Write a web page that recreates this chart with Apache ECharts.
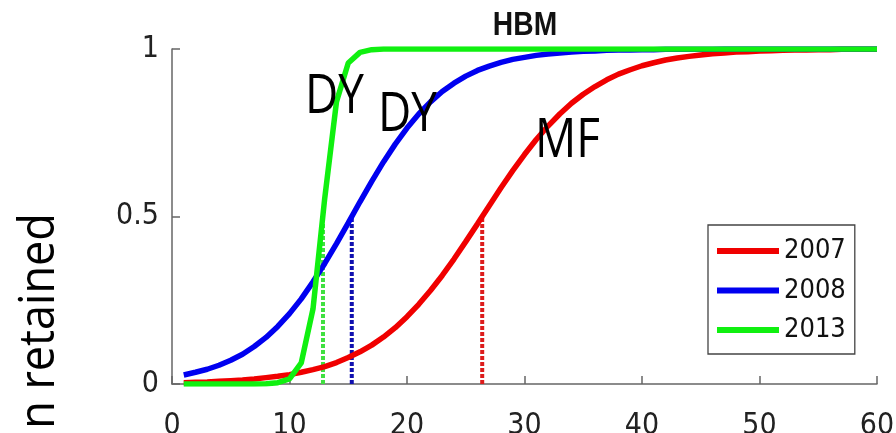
<!DOCTYPE html>
<html><head><meta charset="utf-8">
<script src="https://cdn.jsdelivr.net/npm/echarts@6/dist/echarts.min.js"></script>
<style>html,body{margin:0;padding:0;background:#fff}#c{width:896px;height:433px}</style>
</head><body><div id="c"></div>
<script>
// ---- data ----
const xValues = [1,2,3,4,5,6,7,8,9,10,11,12,13,14,15,16,17,18,19,20,21,22,23,24,25,26,27,28,29,30,31,32,33,34,35,36,37,38,39,40,41,42,43,44,45,46,47,48,49,50,51,52,53,54,55,56,57,58,59,60];
const values2007 = [0.004,0.005,0.006,0.008,0.010,0.012,0.015,0.019,0.023,0.028,
  0.035,0.043,0.052,0.064,0.079,0.096,0.116,0.140,0.168,0.201,
  0.238,0.279,0.324,0.373,0.425,0.478,0.532,0.586,0.637,0.685,
  0.730,0.770,0.806,0.838,0.865,0.888,0.908,0.925,0.938,0.950,
  0.959,0.967,0.973,0.978,0.982,0.986,0.988,0.991,0.992,0.994,
  0.995,0.996,0.997,0.997,0.998,0.998,0.999,0.999,0.999,0.999];
const values2008 = [0.027,0.035,0.044,0.056,0.071,0.089,0.112,0.139,0.172,0.210,
  0.254,0.305,0.360,0.419,0.481,0.544,0.605,0.663,0.716,0.764,
  0.806,0.842,0.873,0.898,0.919,0.936,0.949,0.960,0.969,0.975,
  0.981,0.985,0.988,0.991,0.993,0.994,0.996,0.997,0.997,0.998,
  0.998,0.999,0.999,0.999,0.999,0.999,1,1,1,1,
  1,1,1,1,1,1,1,1,1,1];
const values2013 = [0,0,0,0,0,0,0.0002,0.0008,0.004,0.015,
  0.063,0.224,0.555,0.843,0.958,0.990,0.998,1,1,1,
  1,1,1,1,1,1,1,1,1,1,
  1,1,1,1,1,1,1,1,1,1,
  1,1,1,1,1,1,1,1,1,1,
  1,1,1,1,1,1,1,1,1,1];
const seriesNames = ['2007','2008','2013'];
const midpoints = [26.4, 15.3, 12.85];   // x where each curve reaches 0.5 (dotted markers)
const xTicks = [0,10,20,30,40,50,60];
const yTicks = [0,0.5,1];
const chartTitle = 'HBM';
const yAxisName = 'n retained';
const annotations = [['DY', 13.83, 0.855], ['DY', 20.04, 0.80], ['MF', 33.66, 0.725]];

// ---- styles ----
const lineColors = ['#f00000', '#0000f0', '#10f010'];
const dotColors = ['#dd1c1c', '#1010b0', '#40e040'];
const labelFont = "'Liberation Sans Narrow','Arial Narrow','DejaVu Sans Condensed','Liberation Sans',Arial,sans-serif";

const allValues = [values2007, values2008, values2013];
const chart = echarts.init(document.getElementById('c'), null, {renderer: 'canvas'});

const series = [];
midpoints.forEach((m, i) => {
  series.push({
    type: 'line', name: 'mid' + seriesNames[i], silent: true, symbol: 'none',
    data: [[m, 0], [m, 0.5]],
    lineStyle: {color: dotColors[i], width: 4, type: [4, 2]}, z: 1
  });
});
allValues.forEach((vals, i) => {
  series.push({
    type: 'line', name: seriesNames[i], symbol: 'none', showSymbol: false,
    data: xValues.map((x, j) => [x, vals[j]]),
    lineStyle: {color: lineColors[i], width: 5.5},
    itemStyle: {color: lineColors[i]}, z: 2 + i
  });
});

chart.setOption({
  animation: false,
  backgroundColor: '#ffffff',
  grid: {left: 172, right: 19, top: 49, bottom: 49, containLabel: false, outerBoundsMode: 'none'},
  xAxis: {
    type: 'value', min: xTicks[0], max: xTicks[xTicks.length - 1], interval: 10,
    axisLine: {show: true, lineStyle: {color: '#666', width: 1.5}},
    axisTick: {show: true, inside: true, length: 8, lineStyle: {color: '#666', width: 1.5}},
    splitLine: {show: false},
    axisLabel: {fontSize: 30, color: '#222', margin: 27, fontFamily: labelFont}
  },
  yAxis: {
    type: 'value', min: yTicks[0], max: yTicks[yTicks.length - 1], interval: 0.5,
    axisLine: {show: true, lineStyle: {color: '#666', width: 1.5}},
    axisTick: {show: true, inside: true, length: 8, lineStyle: {color: '#666', width: 1.5}},
    splitLine: {show: false},
    axisLabel: {fontSize: 30, color: '#222', margin: 13, fontFamily: labelFont}
  },
  legend: {
    data: seriesNames, orient: 'vertical', left: 708, top: 225,
    icon: 'rect', itemWidth: 62, itemHeight: 6, itemGap: 9.5,
    padding: [11, 9, 9, 9],
    borderColor: '#444', borderWidth: 1.3, backgroundColor: '#fff',
    textStyle: {fontSize: 27, color: '#111', lineHeight: 30, fontFamily: labelFont}
  },
  series: series
});

const graphics = [
  {type: 'text', x: 525, y: 26, z: 10,
   style: {text: chartTitle, font: "bold 34px 'Liberation Sans', Arial, sans-serif", fill: '#111', align: 'center', verticalAlign: 'middle'},
   scaleX: 0.83},
  {type: 'text', x: 40, y: 321, rotation: Math.PI / 2, z: 10,
   style: {text: yAxisName, font: "50px 'Open Sans', 'Noto Sans', sans-serif", fill: '#000', align: 'center', verticalAlign: 'middle'},
   scaleX: 0.9}
];
annotations.forEach(a => {
  const p = chart.convertToPixel({gridIndex: 0}, [a[1], a[2]]);
  graphics.push({type: 'text', x: p[0], y: p[1], z: 10,
    style: {text: a[0], font: "54px 'Open Sans', 'Noto Sans', sans-serif", fill: '#000', align: 'center', verticalAlign: 'middle'},
    scaleX: 0.85});
});
chart.setOption({graphic: graphics});
</script>
</body></html>
